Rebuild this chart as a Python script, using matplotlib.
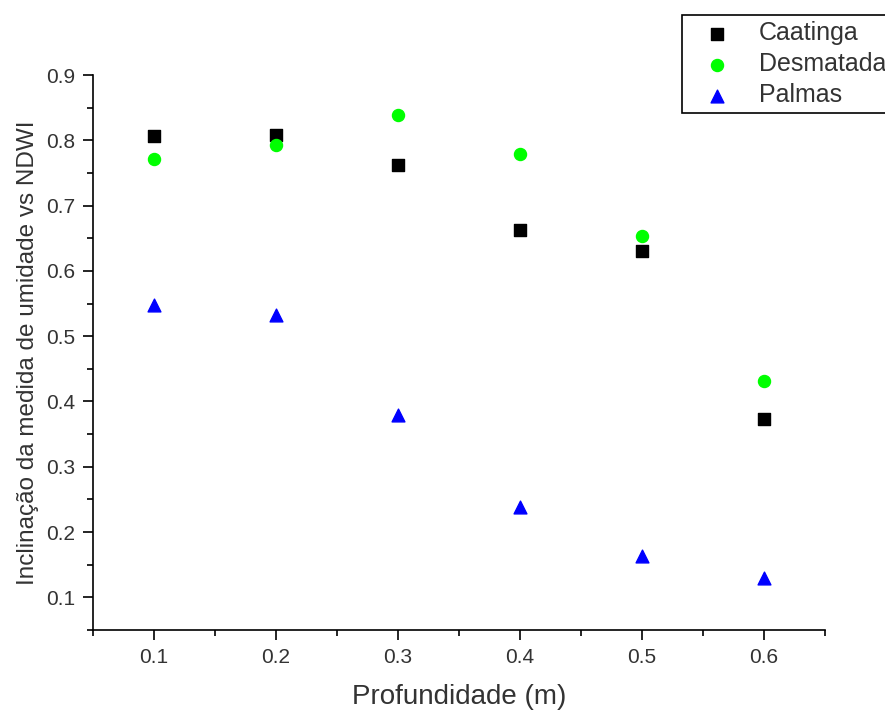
import matplotlib
matplotlib.use("Agg")
import matplotlib.pyplot as plt
from matplotlib.ticker import MultipleLocator

# depth (m) and slope of soil moisture vs NDWI
profundidade = [0.1, 0.2, 0.3, 0.4, 0.5, 0.6]
caatinga = [0.806, 0.808, 0.762, 0.662, 0.630, 0.373]
desmatada = [0.771, 0.793, 0.839, 0.779, 0.654, 0.431]
palmas = [0.548, 0.533, 0.379, 0.238, 0.163, 0.130]

x_ticks = [0.1, 0.2, 0.3, 0.4, 0.5, 0.6]
y_ticks = [0.1, 0.2, 0.3, 0.4, 0.5, 0.6, 0.7, 0.8, 0.9]

plt.rcParams["font.family"] = ["Liberation Sans", "DejaVu Sans"]
text_color = "#333333"

fig = plt.figure(figsize=(8.85, 7.13), dpi=100)
ax = fig.add_axes([0.105, 0.1164, 0.827, 0.7784])

ax.scatter(profundidade, caatinga, marker="s", s=72, color="black",
           label="Caatinga", zorder=3)
ax.scatter(profundidade, desmatada, marker="o", s=75, color="#00ff00",
           label="Desmatada", zorder=3)
ax.scatter(profundidade, palmas, marker="^", s=85, color="#0000ff",
           label="Palmas", zorder=3)

ax.set_xlim(0.05, 0.65)
ax.set_ylim(0.05, 0.9)
ax.set_xticks(x_ticks)
ax.set_yticks(y_ticks)
ax.set_xticklabels(["{:.1f}".format(v) for v in x_ticks])
ax.set_yticklabels(["{:.1f}".format(v) for v in y_ticks])
ax.xaxis.set_minor_locator(MultipleLocator(0.05))
ax.yaxis.set_minor_locator(MultipleLocator(0.05))

for side in ["top", "right"]:
    ax.spines[side].set_visible(False)
for side in ["left", "bottom"]:
    ax.spines[side].set_linewidth(1.2)

ax.tick_params(which="major", direction="out", length=7, width=1.2,
               labelsize=15, labelcolor=text_color, pad=6)
ax.tick_params(which="minor", direction="out", length=4, width=1.2)

ax.set_xlabel("Profundidade (m)", fontsize=20, color=text_color, labelpad=12)
ax.set_ylabel("Inclinação da medida de umidade vs NDWI", fontsize=17.5,
              color=text_color, labelpad=5)

# legend sits partly outside the figure, as in the original export
leg = fig.legend(loc="upper left", bbox_to_anchor=(0.771, 0.979),
                 fontsize=18, frameon=True, fancybox=False,
                 edgecolor="black", framealpha=1, borderpad=0.25,
                 labelspacing=0.28, handletextpad=0.5, handlelength=2.3,
                 borderaxespad=0)
leg.get_frame().set_linewidth(1.2)
for t in leg.get_texts():
    t.set_color(text_color)

fig.savefig("out.png", dpi=100)
